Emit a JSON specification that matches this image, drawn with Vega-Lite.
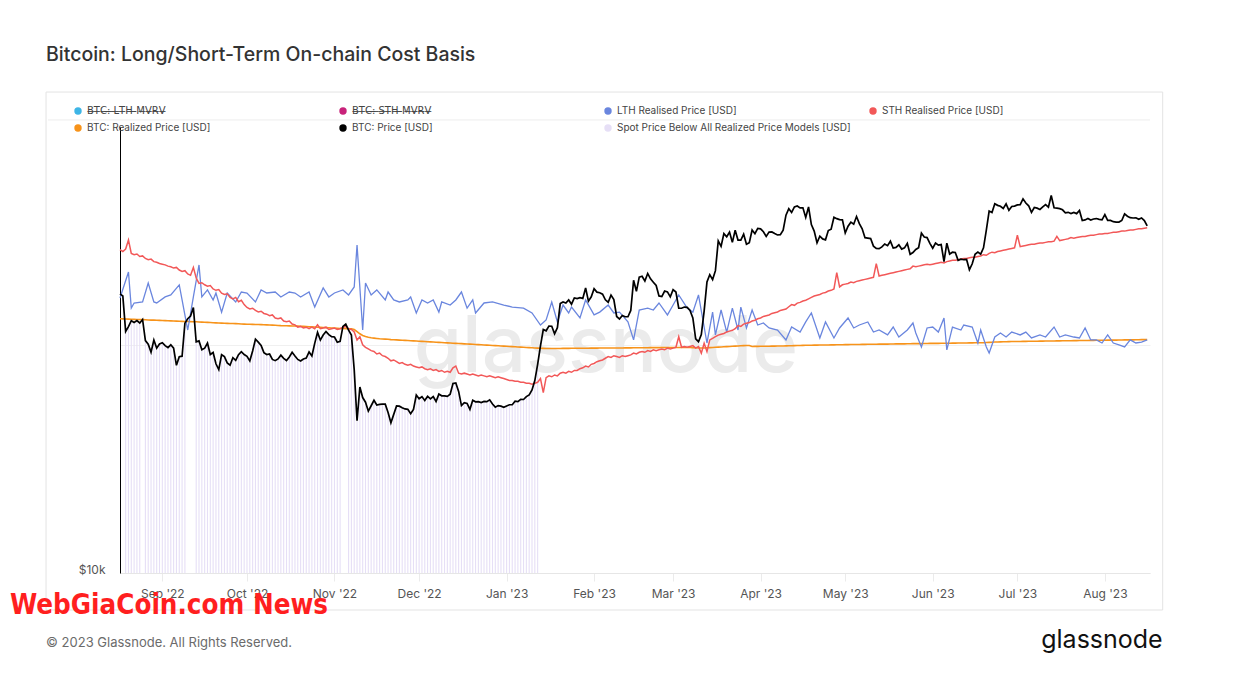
{
"$schema":"https://vega.github.io/schema/vega-lite/v6.json",
"width":1030,"height":446,
"autosize":{"type":"none"},
"padding":{"left":120,"top":127,"right":88,"bottom":111},
"background":"white",
"config":{"font":"Inter","view":{"stroke":null}},
"title":{"text":"Bitcoin: Long/Short-Term On-chain Cost Basis","anchor":"start","frame":"group","dx":-74,"offset":26,"fontSize":19.5,"fontWeight":500,"color":"#333333","font":"Inter"},
"datasets":{
"main":[
{"d":"2022-08-17","p":23350,"s":26700,"r":21650},{"d":"2022-08-18","p":23200,"s":26550,"r":21640},{"d":"2022-08-19","p":20830,"s":26750,"r":21630},{"d":"2022-08-20","p":21140,"s":27500,"r":21625},{"d":"2022-08-21","p":21520,"s":26400,"r":21620},{"d":"2022-08-22","p":21400,"s":26300,"r":21610},{"d":"2022-08-23","p":21530,"s":26350,"r":21600},{"d":"2022-08-24","p":21370,"s":26150,"r":21595},{"d":"2022-08-25","p":21600,"s":26200,"r":21590},{"d":"2022-08-26","p":20260,"s":26000,"r":21580},{"d":"2022-08-27","p":20040,"s":25900,"r":21570},{"d":"2022-08-28","p":19560,"s":25950,"r":21560},{"d":"2022-08-29","p":20290,"s":25750,"r":21555},{"d":"2022-08-30","p":19800,"s":25700,"r":21550},{"d":"2022-08-31","p":20050,"s":25600,"r":21540},
{"d":"2022-09-01","p":20130,"s":25550,"r":21530},{"d":"2022-09-02","p":19950,"s":25500,"r":21525},{"d":"2022-09-03","p":19830,"s":25400,"r":21520},{"d":"2022-09-04","p":20000,"s":25350,"r":21510},{"d":"2022-09-05","p":19800,"s":25250,"r":21500},{"d":"2022-09-06","p":18790,"s":25300,"r":21490},{"d":"2022-09-07","p":19290,"s":25100,"r":21480},{"d":"2022-09-08","p":19320,"s":25000,"r":21475},{"d":"2022-09-09","p":21360,"s":25050,"r":21470},{"d":"2022-09-10","p":21650,"s":24800,"r":21465},{"d":"2022-09-11","p":21830,"s":24700,"r":21460},{"d":"2022-09-12","p":22400,"s":25300,"r":21455},{"d":"2022-09-13","p":20180,"s":24500,"r":21450},{"d":"2022-09-14","p":20240,"s":24100,"r":21440},{"d":"2022-09-15","p":19700,"s":24150,"r":21430},{"d":"2022-09-16","p":19800,"s":24000,"r":21420},{"d":"2022-09-17","p":20110,"s":23900,"r":21410},{"d":"2022-09-18","p":19420,"s":23950,"r":21400},{"d":"2022-09-19","p":19540,"s":23700,"r":21390},{"d":"2022-09-20","p":18880,"s":23600,"r":21380},{"d":"2022-09-21","p":18550,"s":23650,"r":21370},{"d":"2022-09-22","p":19410,"s":23400,"r":21360},{"d":"2022-09-23","p":19300,"s":23300,"r":21350},{"d":"2022-09-24","p":18930,"s":23350,"r":21345},{"d":"2022-09-25","p":18800,"s":23100,"r":21340},{"d":"2022-09-26","p":19230,"s":23000,"r":21335},{"d":"2022-09-27","p":19080,"s":23100,"r":21330},{"d":"2022-09-28","p":19410,"s":22800,"r":21320},{"d":"2022-09-29","p":19590,"s":22900,"r":21310},{"d":"2022-09-30","p":19420,"s":22600,"r":21300},
{"d":"2022-10-01","p":19310,"s":22400,"r":21290},{"d":"2022-10-02","p":19050,"s":22300,"r":21285},{"d":"2022-10-03","p":19630,"s":22350,"r":21280},{"d":"2022-10-04","p":20340,"s":22200,"r":21275},{"d":"2022-10-05","p":20160,"s":22100,"r":21270},{"d":"2022-10-06","p":19960,"s":22150,"r":21265},{"d":"2022-10-07","p":19530,"s":22000,"r":21260},{"d":"2022-10-08","p":19420,"s":21950,"r":21250},{"d":"2022-10-09","p":19450,"s":21850,"r":21240},{"d":"2022-10-10","p":19130,"s":21900,"r":21230},{"d":"2022-10-11","p":19060,"s":21700,"r":21220},{"d":"2022-10-12","p":19160,"s":21650,"r":21210},{"d":"2022-10-13","p":19380,"s":21700,"r":21200},{"d":"2022-10-14","p":19190,"s":21500,"r":21195},{"d":"2022-10-15","p":19070,"s":21450,"r":21190},{"d":"2022-10-16","p":19270,"s":21500,"r":21185},{"d":"2022-10-17","p":19550,"s":21300,"r":21180},{"d":"2022-10-18","p":19330,"s":21250,"r":21175},{"d":"2022-10-19","p":19130,"s":21100,"r":21170},{"d":"2022-10-20","p":19040,"s":21150,"r":21160},{"d":"2022-10-21","p":19160,"s":21050,"r":21150},{"d":"2022-10-22","p":19210,"s":21100,"r":21140},{"d":"2022-10-23","p":19570,"s":21000,"r":21130},{"d":"2022-10-24","p":19330,"s":21100,"r":21120},{"d":"2022-10-25","p":20090,"s":21000,"r":21110},{"d":"2022-10-26","p":20770,"s":21250,"r":21100},{"d":"2022-10-27","p":20290,"s":21000,"r":21090},{"d":"2022-10-28","p":20600,"s":21050,"r":21080},{"d":"2022-10-29","p":20820,"s":21100,"r":21070},{"d":"2022-10-30","p":20630,"s":20950,"r":21060},{"d":"2022-10-31","p":20500,"s":21000,"r":21050},
{"d":"2022-11-01","p":20480,"s":21050,"r":21040},{"d":"2022-11-02","p":20160,"s":20950,"r":21030},{"d":"2022-11-03","p":20210,"s":21000,"r":21020},{"d":"2022-11-04","p":21150,"s":21100,"r":21015},{"d":"2022-11-05","p":21300,"s":21150,"r":21010},{"d":"2022-11-06","p":20910,"s":21000,"r":21005},{"d":"2022-11-07","p":20600,"s":20950,"r":21000},{"d":"2022-11-08","p":18540,"s":20800,"r":20950},{"d":"2022-11-09","p":15880,"s":20300,"r":20820},{"d":"2022-11-10","p":17590,"s":20500,"r":20680},{"d":"2022-11-11","p":17040,"s":20000,"r":20580},{"d":"2022-11-12","p":16800,"s":19850,"r":20510},{"d":"2022-11-13","p":16350,"s":19750,"r":20460},{"d":"2022-11-14","p":16620,"s":19650,"r":20430},{"d":"2022-11-15","p":16900,"s":19600,"r":20410},{"d":"2022-11-16","p":16660,"s":19450,"r":20390},{"d":"2022-11-17","p":16690,"s":19500,"r":20370},{"d":"2022-11-18","p":16700,"s":19350,"r":20360},{"d":"2022-11-19","p":16700,"s":19300,"r":20350},{"d":"2022-11-20","p":16280,"s":19200,"r":20340},{"d":"2022-11-21","p":15780,"s":19050,"r":20320},{"d":"2022-11-22","p":16190,"s":19100,"r":20310},{"d":"2022-11-23","p":16610,"s":19000,"r":20300},{"d":"2022-11-24","p":16600,"s":18900,"r":20290},{"d":"2022-11-25","p":16520,"s":18950,"r":20280},{"d":"2022-11-26","p":16460,"s":18850,"r":20270},{"d":"2022-11-27","p":16440,"s":18800,"r":20260},{"d":"2022-11-28","p":16220,"s":18850,"r":20250},{"d":"2022-11-29","p":16440,"s":18750,"r":20240},{"d":"2022-11-30","p":17170,"s":18700,"r":20230},
{"d":"2022-12-01","p":16980,"s":18650,"r":20220},{"d":"2022-12-02","p":17090,"s":18700,"r":20210},{"d":"2022-12-03","p":16890,"s":18600,"r":20200},{"d":"2022-12-04","p":17110,"s":18550,"r":20190},{"d":"2022-12-05","p":16970,"s":18600,"r":20180},{"d":"2022-12-06","p":17090,"s":18500,"r":20170},{"d":"2022-12-07","p":16840,"s":18550,"r":20160},{"d":"2022-12-08","p":17220,"s":18450,"r":20150},{"d":"2022-12-09","p":17130,"s":18500,"r":20140},{"d":"2022-12-10","p":17130,"s":18400,"r":20130},{"d":"2022-12-11","p":17100,"s":18450,"r":20120},{"d":"2022-12-12","p":17210,"s":18400,"r":20110},{"d":"2022-12-13","p":17780,"s":18650,"r":20100},{"d":"2022-12-14","p":17810,"s":18750,"r":20090},{"d":"2022-12-15","p":17360,"s":18350,"r":20080},{"d":"2022-12-16","p":16630,"s":18300,"r":20070},{"d":"2022-12-17","p":16780,"s":18350,"r":20060},{"d":"2022-12-18","p":16740,"s":18300,"r":20050},{"d":"2022-12-19","p":16440,"s":18250,"r":20040},{"d":"2022-12-20","p":16900,"s":18300,"r":20030},{"d":"2022-12-21","p":16820,"s":18250,"r":20020},{"d":"2022-12-22","p":16830,"s":18200,"r":20010},{"d":"2022-12-23","p":16780,"s":18250,"r":20000},{"d":"2022-12-24","p":16840,"s":18200,"r":19990},{"d":"2022-12-25","p":16830,"s":18150,"r":19980},{"d":"2022-12-26","p":16920,"s":18200,"r":19970},{"d":"2022-12-27","p":16710,"s":18150,"r":19960},{"d":"2022-12-28","p":16550,"s":18100,"r":19950},{"d":"2022-12-29","p":16630,"s":18150,"r":19940},{"d":"2022-12-30","p":16600,"s":18100,"r":19930},{"d":"2022-12-31","p":16540,"s":18050,"r":19920},
{"d":"2023-01-01","p":16610,"s":18000,"r":19910},{"d":"2023-01-02","p":16670,"s":17950,"r":19900},{"d":"2023-01-03","p":16670,"s":17950,"r":19890},{"d":"2023-01-04","p":16850,"s":17900,"r":19880},{"d":"2023-01-05","p":16830,"s":17900,"r":19870},{"d":"2023-01-06","p":16950,"s":17850,"r":19860},{"d":"2023-01-07","p":16940,"s":17850,"r":19850},{"d":"2023-01-08","p":17090,"s":17800,"r":19840},{"d":"2023-01-09","p":17180,"s":17800,"r":19830},{"d":"2023-01-10","p":17440,"s":17750,"r":19820},{"d":"2023-01-11","p":17940,"s":17800,"r":19810},{"d":"2023-01-12","p":18850,"s":17850,"r":19800},{"d":"2023-01-13","p":19930,"s":18050,"r":19790},{"d":"2023-01-14","p":20950,"s":17300,"r":19785},{"d":"2023-01-15","p":20870,"s":18100,"r":19780},{"d":"2023-01-16","p":21170,"s":18200,"r":19780},{"d":"2023-01-17","p":21160,"s":18150,"r":19780},{"d":"2023-01-18","p":20680,"s":18250,"r":19780},{"d":"2023-01-19","p":21070,"s":18200,"r":19780},{"d":"2023-01-20","p":22670,"s":18350,"r":19780},{"d":"2023-01-21","p":22780,"s":18400,"r":19785},{"d":"2023-01-22","p":22710,"s":18350,"r":19785},{"d":"2023-01-23","p":22920,"s":18450,"r":19785},{"d":"2023-01-24","p":22630,"s":18400,"r":19790},{"d":"2023-01-25","p":23060,"s":18500,"r":19790},{"d":"2023-01-26","p":23010,"s":18500,"r":19790},{"d":"2023-01-27","p":23080,"s":18600,"r":19790},{"d":"2023-01-28","p":23030,"s":18650,"r":19795},{"d":"2023-01-29","p":23770,"s":18750,"r":19795},{"d":"2023-01-30","p":22840,"s":18700,"r":19795},{"d":"2023-01-31","p":23140,"s":18850,"r":19800},
{"d":"2023-02-01","p":23720,"s":18900,"r":19800},{"d":"2023-02-02","p":23470,"s":19000,"r":19800},{"d":"2023-02-03","p":23430,"s":19050,"r":19805},{"d":"2023-02-04","p":23330,"s":19100,"r":19805},{"d":"2023-02-05","p":22930,"s":19200,"r":19805},{"d":"2023-02-06","p":22760,"s":19300,"r":19810},{"d":"2023-02-07","p":23260,"s":19250,"r":19810},{"d":"2023-02-08","p":22950,"s":19350,"r":19810},{"d":"2023-02-09","p":21800,"s":19300,"r":19810},{"d":"2023-02-10","p":21630,"s":19250,"r":19810},{"d":"2023-02-11","p":21860,"s":19350,"r":19810},{"d":"2023-02-12","p":21780,"s":19300,"r":19815},{"d":"2023-02-13","p":21780,"s":19350,"r":19815},{"d":"2023-02-14","p":22200,"s":19400,"r":19815},{"d":"2023-02-15","p":24330,"s":19500,"r":19820},{"d":"2023-02-16","p":23530,"s":19450,"r":19820},{"d":"2023-02-17","p":24570,"s":19550,"r":19820},{"d":"2023-02-18","p":24630,"s":19600,"r":19825},{"d":"2023-02-19","p":24280,"s":19550,"r":19825},{"d":"2023-02-20","p":24840,"s":19650,"r":19825},{"d":"2023-02-21","p":24440,"s":19600,"r":19830},{"d":"2023-02-22","p":24190,"s":19700,"r":19830},{"d":"2023-02-23","p":23950,"s":19650,"r":19830},{"d":"2023-02-24","p":23200,"s":19700,"r":19830},{"d":"2023-02-25","p":23160,"s":19750,"r":19835},{"d":"2023-02-26","p":23550,"s":19700,"r":19835},{"d":"2023-02-27","p":23490,"s":19800,"r":19835},{"d":"2023-02-28","p":23140,"s":19750,"r":19840},
{"d":"2023-03-01","p":23650,"s":19800,"r":19840},{"d":"2023-03-02","p":23480,"s":19850,"r":19840},{"d":"2023-03-03","p":22360,"s":20500,"r":19840},{"d":"2023-03-04","p":22350,"s":19850,"r":19840},{"d":"2023-03-05","p":22430,"s":19900,"r":19840},{"d":"2023-03-06","p":22410,"s":19850,"r":19840},{"d":"2023-03-07","p":22200,"s":19900,"r":19835},{"d":"2023-03-08","p":21700,"s":19950,"r":19830},{"d":"2023-03-09","p":20360,"s":19800,"r":19820},{"d":"2023-03-10","p":20190,"s":19900,"r":19810},{"d":"2023-03-11","p":20630,"s":19500,"r":19805},{"d":"2023-03-12","p":22160,"s":20100,"r":19810},{"d":"2023-03-13","p":24200,"s":19600,"r":19820},{"d":"2023-03-14","p":24750,"s":20300,"r":19830},{"d":"2023-03-15","p":24380,"s":20400,"r":19840},{"d":"2023-03-16","p":25050,"s":20500,"r":19850},{"d":"2023-03-17","p":27420,"s":20600,"r":19860},{"d":"2023-03-18","p":26970,"s":20650,"r":19870},{"d":"2023-03-19","p":28040,"s":20700,"r":19880},{"d":"2023-03-20","p":27770,"s":20800,"r":19890},{"d":"2023-03-21","p":28170,"s":20850,"r":19900},{"d":"2023-03-22","p":27300,"s":20900,"r":19910},{"d":"2023-03-23","p":28330,"s":21000,"r":19920},{"d":"2023-03-24","p":27490,"s":21200,"r":19930},{"d":"2023-03-25","p":27490,"s":21150,"r":19940},{"d":"2023-03-26","p":27990,"s":21300,"r":19950},{"d":"2023-03-27","p":27140,"s":21350,"r":19955},{"d":"2023-03-28","p":27270,"s":21400,"r":19960},{"d":"2023-03-29","p":28350,"s":21500,"r":19900},{"d":"2023-03-30","p":28030,"s":21550,"r":19905},{"d":"2023-03-31","p":28480,"s":21650,"r":19905},
{"d":"2023-04-01","p":28450,"s":21700,"r":19910},{"d":"2023-04-02","p":28200,"s":21800,"r":19910},{"d":"2023-04-03","p":27800,"s":21850,"r":19915},{"d":"2023-04-04","p":28170,"s":21900,"r":19915},{"d":"2023-04-05","p":28180,"s":22000,"r":19920},{"d":"2023-04-06","p":28040,"s":22050,"r":19920},{"d":"2023-04-07","p":27920,"s":22100,"r":19925},{"d":"2023-04-08","p":27950,"s":22200,"r":19925},{"d":"2023-04-09","p":28330,"s":22250,"r":19930},{"d":"2023-04-10","p":29650,"s":22300,"r":19935},{"d":"2023-04-11","p":30240,"s":22450,"r":19940},{"d":"2023-04-12","p":29900,"s":22600,"r":19945},{"d":"2023-04-13","p":30400,"s":22550,"r":19950},{"d":"2023-04-14","p":30490,"s":22700,"r":19955},{"d":"2023-04-15","p":30320,"s":22750,"r":19960},{"d":"2023-04-16","p":30320,"s":22850,"r":19965},{"d":"2023-04-17","p":29450,"s":22900,"r":19970},{"d":"2023-04-18","p":30400,"s":23000,"r":19975},{"d":"2023-04-19","p":28820,"s":23100,"r":19975},{"d":"2023-04-20","p":28250,"s":23200,"r":19980},{"d":"2023-04-21","p":27270,"s":23250,"r":19980},{"d":"2023-04-22","p":27820,"s":23300,"r":19985},{"d":"2023-04-23","p":27590,"s":23400,"r":19985},{"d":"2023-04-24","p":27510,"s":23450,"r":19990},{"d":"2023-04-25","p":28300,"s":23550,"r":19990},{"d":"2023-04-26","p":28420,"s":23600,"r":19995},{"d":"2023-04-27","p":29470,"s":23700,"r":19995},{"d":"2023-04-28","p":29340,"s":24900,"r":20000},{"d":"2023-04-29","p":29250,"s":23850,"r":20000},{"d":"2023-04-30","p":29230,"s":24000,"r":20005},
{"d":"2023-05-01","p":28090,"s":24050,"r":20010},{"d":"2023-05-02","p":28680,"s":24100,"r":20010},{"d":"2023-05-03","p":29030,"s":24200,"r":20015},{"d":"2023-05-04","p":28850,"s":24150,"r":20015},{"d":"2023-05-05","p":29530,"s":24250,"r":20020},{"d":"2023-05-06","p":28900,"s":24300,"r":20020},{"d":"2023-05-07","p":28450,"s":24350,"r":20025},{"d":"2023-05-08","p":27690,"s":24400,"r":20025},{"d":"2023-05-09","p":27660,"s":24450,"r":20030},{"d":"2023-05-10","p":27620,"s":24500,"r":20030},{"d":"2023-05-11","p":26990,"s":24550,"r":20035},{"d":"2023-05-12","p":26800,"s":25600,"r":20035},{"d":"2023-05-13","p":26780,"s":24650,"r":20040},{"d":"2023-05-14","p":26930,"s":24700,"r":20040},{"d":"2023-05-15","p":27170,"s":24750,"r":20045},{"d":"2023-05-16","p":27030,"s":24800,"r":20045},{"d":"2023-05-17","p":27400,"s":24850,"r":20050},{"d":"2023-05-18","p":26830,"s":24900,"r":20050},{"d":"2023-05-19","p":26890,"s":24950,"r":20055},{"d":"2023-05-20","p":27100,"s":25000,"r":20055},{"d":"2023-05-21","p":26750,"s":25050,"r":20060},{"d":"2023-05-22","p":26850,"s":25100,"r":20060},{"d":"2023-05-23","p":27220,"s":25150,"r":20065},{"d":"2023-05-24","p":26330,"s":25200,"r":20065},{"d":"2023-05-25","p":26470,"s":25400,"r":20070},{"d":"2023-05-26","p":26720,"s":25350,"r":20070},{"d":"2023-05-27","p":26870,"s":25400,"r":20075},{"d":"2023-05-28","p":28080,"s":25450,"r":20075},{"d":"2023-05-29","p":27750,"s":25500,"r":20080},{"d":"2023-05-30","p":27700,"s":25550,"r":20080},{"d":"2023-05-31","p":27220,"s":25500,"r":20085},
{"d":"2023-06-01","p":26820,"s":25550,"r":20085},{"d":"2023-06-02","p":27250,"s":25600,"r":20090},{"d":"2023-06-03","p":27070,"s":25650,"r":20090},{"d":"2023-06-04","p":27120,"s":25700,"r":20095},{"d":"2023-06-05","p":25760,"s":25650,"r":20095},{"d":"2023-06-06","p":27240,"s":25750,"r":20100},{"d":"2023-06-07","p":26350,"s":25800,"r":20100},{"d":"2023-06-08","p":26500,"s":25850,"r":20105},{"d":"2023-06-09","p":26480,"s":25850,"r":20105},{"d":"2023-06-10","p":25850,"s":25900,"r":20110},{"d":"2023-06-11","p":25940,"s":25950,"r":20110},{"d":"2023-06-12","p":25900,"s":26000,"r":20115},{"d":"2023-06-13","p":25920,"s":26000,"r":20115},{"d":"2023-06-14","p":25120,"s":26050,"r":20120},{"d":"2023-06-15","p":25580,"s":26100,"r":20120},{"d":"2023-06-16","p":26330,"s":26100,"r":20125},{"d":"2023-06-17","p":26510,"s":26150,"r":20125},{"d":"2023-06-18","p":26340,"s":26200,"r":20130},{"d":"2023-06-19","p":26850,"s":26300,"r":20130},{"d":"2023-06-20","p":28330,"s":26250,"r":20140},{"d":"2023-06-21","p":30030,"s":26400,"r":20150},{"d":"2023-06-22","p":29900,"s":26500,"r":20160},{"d":"2023-06-23","p":30700,"s":26450,"r":20170},{"d":"2023-06-24","p":30550,"s":26550,"r":20175},{"d":"2023-06-25","p":30470,"s":26600,"r":20180},{"d":"2023-06-26","p":30270,"s":26650,"r":20185},{"d":"2023-06-27","p":30690,"s":26700,"r":20190},{"d":"2023-06-28","p":30090,"s":26750,"r":20195},{"d":"2023-06-29","p":30450,"s":26800,"r":20200},{"d":"2023-06-30","p":30480,"s":26850,"r":20200},
{"d":"2023-07-01","p":30590,"s":27900,"r":20205},{"d":"2023-07-02","p":30620,"s":26950,"r":20205},{"d":"2023-07-03","p":31160,"s":27000,"r":20210},{"d":"2023-07-04","p":30770,"s":27050,"r":20210},{"d":"2023-07-05","p":30510,"s":27100,"r":20215},{"d":"2023-07-06","p":29900,"s":27150,"r":20215},{"d":"2023-07-07","p":30350,"s":27150,"r":20220},{"d":"2023-07-08","p":30290,"s":27200,"r":20220},{"d":"2023-07-09","p":30170,"s":27250,"r":20225},{"d":"2023-07-10","p":30410,"s":27250,"r":20225},{"d":"2023-07-11","p":30620,"s":27300,"r":20230},{"d":"2023-07-12","p":30390,"s":27350,"r":20230},{"d":"2023-07-13","p":31480,"s":27350,"r":20235},{"d":"2023-07-14","p":30330,"s":27400,"r":20235},{"d":"2023-07-15","p":30300,"s":27800,"r":20240},{"d":"2023-07-16","p":30250,"s":27450,"r":20240},{"d":"2023-07-17","p":30140,"s":27500,"r":20245},{"d":"2023-07-18","p":29860,"s":27550,"r":20245},{"d":"2023-07-19","p":29910,"s":27600,"r":20250},{"d":"2023-07-20","p":29800,"s":27700,"r":20250},{"d":"2023-07-21","p":29900,"s":27650,"r":20255},{"d":"2023-07-22","p":29790,"s":27700,"r":20255},{"d":"2023-07-23","p":30080,"s":27750,"r":20260},{"d":"2023-07-24","p":29180,"s":27800,"r":20260},{"d":"2023-07-25","p":29230,"s":27800,"r":20265},{"d":"2023-07-26","p":29350,"s":27850,"r":20265},{"d":"2023-07-27","p":29220,"s":27900,"r":20270},{"d":"2023-07-28","p":29310,"s":27900,"r":20270},{"d":"2023-07-29","p":29350,"s":27950,"r":20275},{"d":"2023-07-30","p":29280,"s":28000,"r":20275},{"d":"2023-07-31","p":29230,"s":28000,"r":20280},
{"d":"2023-08-01","p":29700,"s":28050,"r":20280},{"d":"2023-08-02","p":29180,"s":28050,"r":20285},{"d":"2023-08-03","p":29180,"s":28100,"r":20285},{"d":"2023-08-04","p":29070,"s":28150,"r":20290},{"d":"2023-08-05","p":29040,"s":28150,"r":20290},{"d":"2023-08-06","p":29040,"s":28200,"r":20295},{"d":"2023-08-07","p":29180,"s":28250,"r":20295},{"d":"2023-08-08","p":29770,"s":28250,"r":20300},{"d":"2023-08-09","p":29560,"s":28300,"r":20300},{"d":"2023-08-10","p":29430,"s":28350,"r":20305},{"d":"2023-08-11","p":29400,"s":28350,"r":20305},{"d":"2023-08-12","p":29420,"s":28400,"r":20310},{"d":"2023-08-13","p":29280,"s":28450,"r":20310},{"d":"2023-08-14","p":29400,"s":28450,"r":20315},{"d":"2023-08-15","p":29170,"s":28500,"r":20315},{"d":"2023-08-16","p":28700,"s":28550,"r":20320}
],
"lth":[
{"d":"2022-08-17","l":23060},{"d":"2022-08-20","l":24950},{"d":"2022-08-21","l":22360},{"d":"2022-08-22","l":22710},{"d":"2022-08-25","l":22780},{"d":"2022-08-27","l":24130},{"d":"2022-08-29","l":22780},{"d":"2022-08-30","l":22710},{"d":"2022-09-02","l":23130},{"d":"2022-09-04","l":23270},{"d":"2022-09-07","l":23990},{"d":"2022-09-08","l":22920},{"d":"2022-09-10","l":20920},{"d":"2022-09-12","l":23130},{"d":"2022-09-14","l":25490},{"d":"2022-09-15","l":23130},{"d":"2022-09-17","l":23630},{"d":"2022-09-19","l":22920},{"d":"2022-09-20","l":23410},{"d":"2022-09-22","l":22090},{"d":"2022-09-24","l":23410},{"d":"2022-09-27","l":22780},{"d":"2022-09-29","l":23480},
{"d":"2022-10-01","l":23410},{"d":"2022-10-04","l":22780},{"d":"2022-10-06","l":23630},{"d":"2022-10-08","l":23410},{"d":"2022-10-11","l":23480},{"d":"2022-10-13","l":23130},{"d":"2022-10-16","l":23480},{"d":"2022-10-18","l":23410},{"d":"2022-10-20","l":23130},{"d":"2022-10-23","l":23480},{"d":"2022-10-25","l":22430},{"d":"2022-10-28","l":23770},{"d":"2022-10-30","l":23130},
{"d":"2022-11-01","l":23410},{"d":"2022-11-04","l":23630},{"d":"2022-11-06","l":23270},{"d":"2022-11-08","l":23840},{"d":"2022-11-09","l":27090},{"d":"2022-11-11","l":20920},{"d":"2022-11-12","l":24130},{"d":"2022-11-14","l":23270},{"d":"2022-11-16","l":23630},{"d":"2022-11-19","l":22920},{"d":"2022-11-20","l":23480},{"d":"2022-11-22","l":22920},{"d":"2022-11-24","l":22780},{"d":"2022-11-27","l":22920},{"d":"2022-11-28","l":23130},{"d":"2022-11-30","l":22030},
{"d":"2022-12-02","l":22920},{"d":"2022-12-04","l":22710},{"d":"2022-12-06","l":22920},{"d":"2022-12-08","l":22090},{"d":"2022-12-09","l":22780},{"d":"2022-12-12","l":22570},{"d":"2022-12-14","l":22920},{"d":"2022-12-16","l":23480},{"d":"2022-12-18","l":22360},{"d":"2022-12-20","l":22920},{"d":"2022-12-21","l":22030},{"d":"2022-12-24","l":22710},{"d":"2022-12-27","l":22780},{"d":"2022-12-31","l":22570},
{"d":"2023-01-03","l":22430},{"d":"2023-01-07","l":22360},{"d":"2023-01-10","l":22030},{"d":"2023-01-13","l":21240},{"d":"2023-01-15","l":21570},{"d":"2023-01-17","l":22780},{"d":"2023-01-19","l":21440},{"d":"2023-01-21","l":22570},{"d":"2023-01-23","l":22030},{"d":"2023-01-24","l":22430},{"d":"2023-01-27","l":21700},{"d":"2023-01-29","l":22920},
{"d":"2023-02-01","l":21900},{"d":"2023-02-03","l":22090},{"d":"2023-02-06","l":22570},{"d":"2023-02-08","l":22030},{"d":"2023-02-10","l":22090},{"d":"2023-02-13","l":21440},{"d":"2023-02-15","l":20300},{"d":"2023-02-17","l":22230},{"d":"2023-02-20","l":22360},{"d":"2023-02-22","l":22230},{"d":"2023-02-24","l":22710},{"d":"2023-02-27","l":21900},
{"d":"2023-03-01","l":22570},{"d":"2023-03-03","l":23270},{"d":"2023-03-06","l":22360},{"d":"2023-03-08","l":22090},{"d":"2023-03-10","l":23270},{"d":"2023-03-13","l":20110},{"d":"2023-03-15","l":22090},{"d":"2023-03-16","l":20610},{"d":"2023-03-18","l":22230},{"d":"2023-03-20","l":20790},{"d":"2023-03-22","l":22360},{"d":"2023-03-24","l":20920},{"d":"2023-03-25","l":22430},{"d":"2023-03-27","l":21050},{"d":"2023-03-29","l":22230},{"d":"2023-03-31","l":21240},
{"d":"2023-04-02","l":21370},{"d":"2023-04-04","l":21050},{"d":"2023-04-07","l":20920},{"d":"2023-04-10","l":20300},{"d":"2023-04-12","l":21110},{"d":"2023-04-15","l":20790},{"d":"2023-04-17","l":21440},{"d":"2023-04-19","l":22030},{"d":"2023-04-22","l":20420},{"d":"2023-04-24","l":21440},{"d":"2023-04-27","l":20420},{"d":"2023-04-29","l":21050},
{"d":"2023-05-02","l":21700},{"d":"2023-05-04","l":21050},{"d":"2023-05-06","l":21240},{"d":"2023-05-09","l":21440},{"d":"2023-05-11","l":20790},{"d":"2023-05-13","l":20920},{"d":"2023-05-16","l":20610},{"d":"2023-05-18","l":21110},{"d":"2023-05-20","l":20480},{"d":"2023-05-23","l":20920},{"d":"2023-05-25","l":21370},{"d":"2023-05-26","l":20730},{"d":"2023-05-28","l":19870},{"d":"2023-05-30","l":21050},
{"d":"2023-06-01","l":21110},{"d":"2023-06-03","l":20790},{"d":"2023-06-05","l":21700},{"d":"2023-06-06","l":19690},{"d":"2023-06-08","l":21110},{"d":"2023-06-11","l":20920},{"d":"2023-06-12","l":21240},{"d":"2023-06-15","l":21110},{"d":"2023-06-17","l":20110},{"d":"2023-06-18","l":20920},{"d":"2023-06-20","l":19870},{"d":"2023-06-21","l":19510},{"d":"2023-06-23","l":20480},{"d":"2023-06-25","l":20730},{"d":"2023-06-27","l":20480},{"d":"2023-06-29","l":20790},
{"d":"2023-07-02","l":20610},{"d":"2023-07-04","l":20790},{"d":"2023-07-06","l":20420},{"d":"2023-07-09","l":20610},{"d":"2023-07-11","l":20480},{"d":"2023-07-14","l":21110},{"d":"2023-07-16","l":20480},{"d":"2023-07-18","l":20610},{"d":"2023-07-21","l":20480},{"d":"2023-07-23","l":20420},{"d":"2023-07-25","l":21050},{"d":"2023-07-27","l":20300},{"d":"2023-07-29","l":20300},{"d":"2023-07-31","l":20110},
{"d":"2023-08-02","l":20610},{"d":"2023-08-04","l":20110},{"d":"2023-08-06","l":19990},{"d":"2023-08-08","l":19870},{"d":"2023-08-10","l":20300},{"d":"2023-08-12","l":20110},{"d":"2023-08-14","l":20170},{"d":"2023-08-16","l":20300}
],
"note":[{}]
},
"layer":[
{"data":{"name":"note"},
 "mark":{"type":"rect","fill":"transparent","stroke":"#e3e3e3","strokeWidth":1,"clip":false},
 "encoding":{
  "x":{"datum":{"year":2022,"month":7,"date":21,"hours":19,"utc":true},"type":"temporal",
       "scale":{"type":"utc","domain":[{"year":2022,"month":8,"date":17,"utc":true},{"year":2023,"month":8,"date":17,"utc":true}]},
       "axis":{"values":[{"year":2022,"month":9,"date":1,"utc":true},{"year":2022,"month":10,"date":1,"utc":true},{"year":2022,"month":11,"date":1,"utc":true},{"year":2022,"month":12,"date":1,"utc":true},{"year":2023,"month":1,"date":1,"utc":true},{"year":2023,"month":2,"date":1,"utc":true},{"year":2023,"month":3,"date":1,"utc":true},{"year":2023,"month":4,"date":1,"utc":true},{"year":2023,"month":5,"date":1,"utc":true},{"year":2023,"month":6,"date":1,"utc":true},{"year":2023,"month":7,"date":1,"utc":true},{"year":2023,"month":8,"date":1,"utc":true}],
        "labelExpr":"utcFormat(datum.value, \"%b '%y\")","title":null,"grid":false,"labelFontSize":12,"labelColor":"#555555","labelFont":"Inter","labelPadding":7,"tickSize":8,"tickColor":"#ebebeb","domainColor":"#e6e6e6","labelOverlap":false}},
  "x2":{"datum":{"year":2023,"month":8,"date":21,"hours":12,"utc":true}},
  "y":{"datum":43100,"type":"quantitative",
       "scale":{"type":"log","domain":[10000,38760],"nice":false},
       "axis":{"values":[10000,20000],"labelExpr":"datum.value == 10000 ? '$10k' : ''","title":null,"grid":true,"gridColor":"#f0f0f0","ticks":false,"tickSize":0,"labelPadding":15,"labelFontSize":12,"labelColor":"#555555","labelFont":"Inter","labelBaseline":"alphabetic","domainColor":"#000000","domainWidth":1}},
  "y2":{"datum":8937}
 }},
{"data":{"name":"note"},
 "mark":{"type":"rule","stroke":"#ededed","strokeWidth":1,"clip":false},
 "encoding":{"x":{"datum":{"year":2022,"month":7,"date":22,"hours":12,"utc":true},"type":"temporal"},"x2":{"datum":{"year":2023,"month":8,"date":17,"utc":true}},"y":{"datum":39600,"type":"quantitative"}}},
{"data":{"name":"note"},
 "mark":{"type":"text","text":"glassnode","fontSize":78,"fontWeight":500,"font":"Inter","color":"#ebebeb","align":"center","baseline":"alphabetic"},
 "encoding":{"x":{"datum":{"year":2023,"month":2,"date":5,"hours":4,"utc":true},"type":"temporal"},"y":{"datum":18420,"type":"quantitative"}}},
{"data":{"name":"main"},
 "transform":[{"filter":"datum.p < datum.r"}],
 "mark":{"type":"rule","strokeWidth":1.1},
 "encoding":{"x":{"field":"d","type":"temporal","axis":{"labelExpr":"utcFormat(datum.value, \"%b '%y\")"}},"y":{"field":"p","type":"quantitative"},"y2":{"datum":10000},
  "color":{"datum":"Spot Price Below All Realized Price Models [USD]"}}},
{"data":{"name":"main"},
 "mark":{"type":"line","strokeWidth":1.6},
 "encoding":{"x":{"field":"d","type":"temporal","axis":{"labelExpr":"utcFormat(datum.value, \"%b '%y\")"}},"y":{"field":"r","type":"quantitative"},
  "color":{"datum":"BTC: Realized Price [USD]","type":"nominal",
   "scale":{"domain":["BTC: LTH-MVRV","BTC: STH-MVRV","LTH Realised Price [USD]","STH Realised Price [USD]","BTC: Realized Price [USD]","BTC: Price [USD]","Spot Price Below All Realized Price Models [USD]"],
            "range":["#3db5e6","#c8227a","#6a86de","#f25858","#f7931a","#000000","#e6dff6"]},
   "legend":{"orient":"none","legendX":-47,"legendY":-21,"direction":"horizontal","columns":4,"gridAlign":"all","columnPadding":17,"rowPadding":7,"symbolType":"circle","symbolSize":55,"labelFontSize":10,"labelColor":"#444444","labelFont":"Inter, DejaVu Sans, sans-serif","labelLimit":400,"title":null,"padding":0,
     "labelExpr":"datum.label == 'BTC: LTH-MVRV' ? 'B\u0336T\u0336C\u0336:\u0336 \u0336L\u0336T\u0336H\u0336-\u0336M\u0336V\u0336R\u0336V\u0336' : datum.label == 'BTC: STH-MVRV' ? 'B\u0336T\u0336C\u0336:\u0336 \u0336S\u0336T\u0336H\u0336-\u0336M\u0336V\u0336R\u0336V\u0336' : datum.label",
     "encode":{"symbols":{"update":{"fill":{"scale":"color","field":"value"},"strokeWidth":{"value":0},"opacity":{"value":1}}}}}}}},
{"data":{"name":"lth"},
 "mark":{"type":"line","strokeWidth":1.3},
 "encoding":{"x":{"field":"d","type":"temporal","axis":{"labelExpr":"utcFormat(datum.value, \"%b '%y\")"}},"y":{"field":"l","type":"quantitative"},"color":{"datum":"LTH Realised Price [USD]"}}},
{"data":{"name":"main"},
 "mark":{"type":"line","strokeWidth":1.5},
 "encoding":{"x":{"field":"d","type":"temporal","axis":{"labelExpr":"utcFormat(datum.value, \"%b '%y\")"}},"y":{"field":"s","type":"quantitative"},"color":{"datum":"STH Realised Price [USD]"}}},
{"data":{"name":"main"},
 "mark":{"type":"line","strokeWidth":1.7},
 "encoding":{"x":{"field":"d","type":"temporal","axis":{"labelExpr":"utcFormat(datum.value, \"%b '%y\")"}},"y":{"field":"p","type":"quantitative"},"color":{"datum":"BTC: Price [USD]"}}},
{"data":{"name":"note"},
 "mark":{"type":"text","text":"© 2023 Glassnode. All Rights Reserved.","fontSize":13,"font":"Inter","color":"#6b6b6b","align":"left","baseline":"alphabetic","clip":false},
 "encoding":{"x":{"datum":{"year":2022,"month":7,"date":21,"hours":19,"utc":true},"type":"temporal"},"y":{"datum":7988,"type":"quantitative"}}},
{"data":{"name":"note"},
 "mark":{"type":"text","text":"glassnode","fontSize":25,"fontWeight":400,"font":"Inter","color":"#111111","align":"right","baseline":"alphabetic","clip":false},
 "encoding":{"x":{"datum":{"year":2023,"month":8,"date":21,"hours":12,"utc":true},"type":"temporal"},"y":{"datum":7960,"type":"quantitative"}}},
{"data":{"name":"note"},
 "mark":{"type":"text","text":"WebGiaCoin.com News","fontSize":27.5,"fontWeight":"bold","font":"DejaVu Sans Condensed, DejaVu Sans, sans-serif","color":"#ff1f1f","align":"left","baseline":"alphabetic","clip":false},
 "encoding":{"x":{"datum":{"year":2022,"month":7,"date":9,"utc":true},"type":"temporal"},"y":{"datum":8830,"type":"quantitative"}}}
]
}
